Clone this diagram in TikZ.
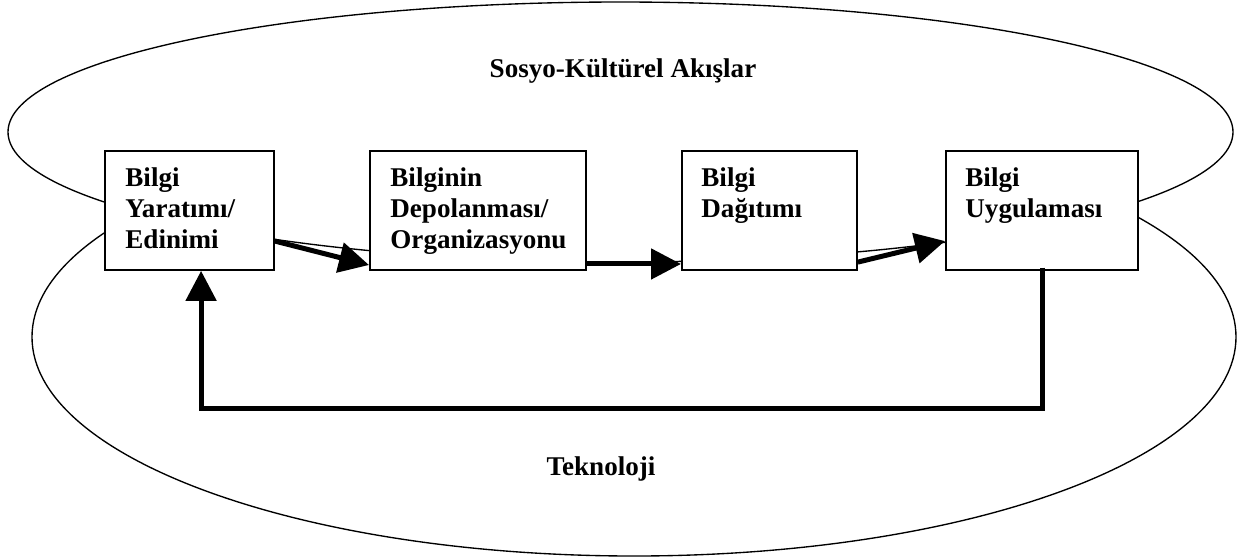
\documentclass[tikz,border=0pt]{standalone}
\usepackage{fontspec}
\setmainfont{Liberation Serif}
\usetikzlibrary{arrows.meta}
\begin{document}
\begin{tikzpicture}[x=0.48pt,y=-0.48pt,
  boxst/.style={draw=black,line width=0.9pt,fill=white,inner sep=0pt,anchor=north west},
  lbl/.style={font=\fontsize{13}{14.9}\selectfont\bfseries,align=left,inner sep=0pt,anchor=north west},
  ttl/.style={font=\fontsize{13}{14.9}\selectfont\bfseries,inner sep=0pt,anchor=base},
  ell/.style={draw=black,line width=0.65pt},
  flow/.style={line width=2.4pt,-{Triangle[length=14.4pt,width=14.4pt]}},
]
\useasboundingbox (0,0) rectangle (1254,559);
% ellipses
\draw[ell,fill=white] (634,337) ellipse [x radius=602, y radius=219];
\draw[ell,fill=white] (620.5,132) ellipse [x radius=612.5, y radius=130];
\node[ttl] (t1) at (623,77) {Sosyo-Kültürel Akışlar};
\node[ttl] (t2) at (601,475) {Teknoloji};
% boxes
\node[boxst,minimum width=81.1pt,minimum height=57.1pt] (b1) at (104,150) {};
\node[boxst,minimum width=103.7pt,minimum height=57.1pt] (b2) at (369,150) {};
\node[boxst,minimum width=84pt,minimum height=57.1pt] (b3) at (681,150) {};
\node[boxst,minimum width=92.2pt,minimum height=57.1pt] (b4) at (945,150) {};
\node[lbl] (l1) at (125,167) {Bilgi\\Yaratımı/\\Edinimi};
\node[lbl] (l2) at (390,167) {Bilginin\\Depolanması/\\Organizasyonu};
\node[lbl] (l3) at (701,167) {Bilgi\\Dağıtımı};
\node[lbl] (l4) at (965,167) {Bilgi\\Uygulaması};
% flow arrows
\draw[flow] ([yshift=-43.7pt]b1.north east) -- ([yshift=-55.2pt]b2.north west);
\draw[flow] ([yshift=-54.7pt]b2.north east) -- ([yshift=-54.7pt]b3.north west);
\draw[flow] ([yshift=-53.8pt]b3.north east) -- ([yshift=-43.7pt]b4.north west);
% feedback
\coordinate (fby) at (0,408);
\coordinate (fbs) at ([xshift=47.0pt,yshift=1.5pt]b4.south west);
\coordinate (fbe) at ([xshift=46.6pt]b1.south west);
\draw[flow,line join=miter] (fbs) -- (fbs |- fby) -- (fbe |- fby) -- (fbe);
\end{tikzpicture}
\end{document}
